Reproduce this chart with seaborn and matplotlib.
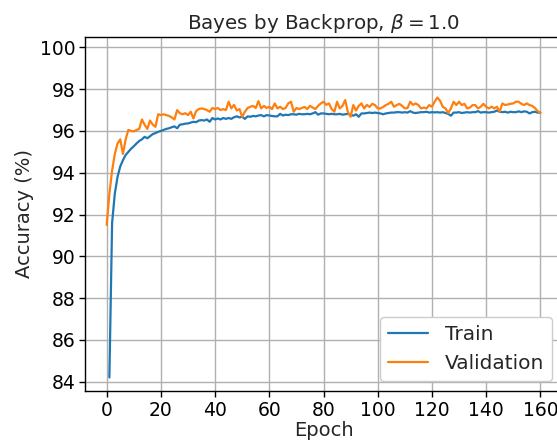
import numpy as np
import pandas as pd
import matplotlib
matplotlib.use("Agg")
import matplotlib.pyplot as plt
import seaborn as sns

# Validation accuracy (%) per epoch, epochs 0..160
val_acc = [
    91.5, 93.0, 94.1, 94.9, 95.4, 95.6, 94.9, 95.6, 96.05, 96.0,
    95.98, 96.05, 96.1, 96.55, 96.3, 96.1, 96.5, 96.3, 96.2, 96.8,
    96.76, 96.8, 96.76, 96.72, 96.65, 96.55, 97.0, 96.85, 96.8, 96.85,
    96.76, 96.92, 96.6, 96.95, 97.05, 97.08, 97.05, 97.0, 96.92, 97.1,
    97.05, 97.1, 97.0, 97.05, 97.0, 97.4, 97.08, 97.25, 96.98, 97.05,
    96.68, 96.92, 97.1, 97.16, 97.2, 97.1, 97.43, 97.08, 97.2, 97.1,
    97.16, 97.05, 97.32, 97.08, 97.16, 97.05, 97.1, 97.32, 97.4, 96.92,
    97.1, 97.05, 97.1, 97.15, 97.05, 97.2, 97.12, 97.05, 97.2, 97.32,
    97.4, 97.25, 97.32, 97.05, 96.92, 97.4, 97.08, 97.2, 97.48, 96.9,
    96.68, 97.24, 96.98, 97.2, 97.32, 97.08, 97.25, 97.15, 97.3, 97.24,
    97.08, 97.08, 97.15, 97.24, 97.3, 97.4, 97.16, 97.24, 97.3, 97.2,
    97.08, 97.1, 97.4, 97.25, 97.32, 97.24, 97.08, 97.12, 97.08, 97.24,
    97.16, 97.4, 97.6, 97.45, 97.16, 97.08, 96.86, 97.08, 97.4, 97.24,
    97.4, 97.24, 97.3, 97.08, 97.12, 97.24, 97.24, 97.08, 97.16, 97.3,
    97.16, 97.08, 97.16, 97.08, 97.16, 96.92, 97.32, 97.24, 97.27, 97.3,
    97.32, 97.4, 97.4, 97.3, 97.24, 97.32, 97.24, 97.2, 97.1, 96.95,
    96.86,
]

# Training accuracy (%) per epoch, epochs 1..160
train_acc = [
    84.2, 91.6, 93.0, 93.8, 94.3, 94.6, 94.85, 95.0, 95.15, 95.27,
    95.4, 95.52, 95.6, 95.72, 95.65, 95.75, 95.85, 95.9, 95.96, 96.0,
    96.05, 96.1, 96.13, 96.18, 96.22, 96.13, 96.3, 96.32, 96.35, 96.36,
    96.4, 96.44, 96.42, 96.5, 96.52, 96.5, 96.55, 96.44, 96.62, 96.55,
    96.6, 96.55, 96.62, 96.58, 96.62, 96.58, 96.66, 96.7, 96.65, 96.68,
    96.58, 96.7, 96.68, 96.72, 96.7, 96.74, 96.76, 96.7, 96.76, 96.74,
    96.72, 96.7, 96.7, 96.82, 96.74, 96.78, 96.76, 96.8, 96.8, 96.78,
    96.82, 96.8, 96.8, 96.82, 96.8, 96.84, 96.9, 96.78, 96.84, 96.84,
    96.82, 96.8, 96.82, 96.8, 96.8, 96.82, 96.78, 96.8, 96.82, 96.78,
    96.73, 96.8, 96.68, 96.84, 96.84, 96.86, 96.88, 96.86, 96.88, 96.86,
    96.84, 96.8, 96.84, 96.86, 96.88, 96.88, 96.9, 96.9, 96.88, 96.9,
    96.88, 96.95, 96.88, 96.86, 96.88, 96.9, 96.9, 96.92, 96.88, 96.9,
    96.89, 96.9, 96.88, 96.9, 96.86, 96.82, 96.73, 96.88, 96.88, 96.9,
    96.86, 96.88, 96.9, 96.88, 96.9, 96.9, 96.95, 96.88, 96.9, 96.9,
    96.88, 96.9, 96.92, 96.98, 96.92, 96.9, 96.92, 96.88, 96.92, 96.9,
    96.9, 96.94, 96.9, 96.94, 96.92, 96.84, 96.9, 96.92, 96.88, 96.88,
]

val_epochs = list(range(0, len(val_acc)))
train_epochs = list(range(1, len(train_acc) + 1))

x_ticks = [0, 20, 40, 60, 80, 100, 120, 140, 160]
y_ticks = [84, 86, 88, 90, 92, 94, 96, 98, 100]

train_df = pd.DataFrame({"Epoch": train_epochs, "Accuracy": train_acc})
val_df = pd.DataFrame({"Epoch": val_epochs, "Accuracy": val_acc})

sns.set_style("ticks")
plt.rcParams["font.family"] = ["DejaVu Sans"]
plt.rcParams["mathtext.fontset"] = "dejavusans"

fig = plt.figure(figsize=(5.57, 4.43), dpi=100)
ax = fig.add_axes([0.1526, 0.1174, 0.8564, 0.7991])

sns.lineplot(data=train_df, x="Epoch", y="Accuracy", ax=ax,
             color="#1f77b4", linewidth=1.6, label="Train")
sns.lineplot(data=val_df, x="Epoch", y="Accuracy", ax=ax,
             color="#ff7f0e", linewidth=1.6, label="Validation")

ax.set_xlim(-8, 168)
ax.set_ylim(83.55, 100.5)
ax.set_xticks(x_ticks)
ax.set_yticks(y_ticks)
ax.tick_params(labelsize=13.5, length=4, width=1, pad=3, colors="black")
ax.grid(True, color="#b0b0b0", linewidth=1.0)
ax.set_axisbelow(True)
for s in ax.spines.values():
    s.set_linewidth(1.0)
    s.set_color("black")

ax.set_xlabel("Epoch", fontsize=14, labelpad=1)
ax.set_ylabel("Accuracy (%)", fontsize=14)
ax.set_title(r"Bayes by Backprop, $\beta = 1.0$", fontsize=14.3)

leg = ax.legend(loc="lower right", fontsize=14.5, frameon=True, fancybox=True,
                edgecolor="#cccccc", framealpha=1.0)

fig.savefig("out.png", dpi=100)
